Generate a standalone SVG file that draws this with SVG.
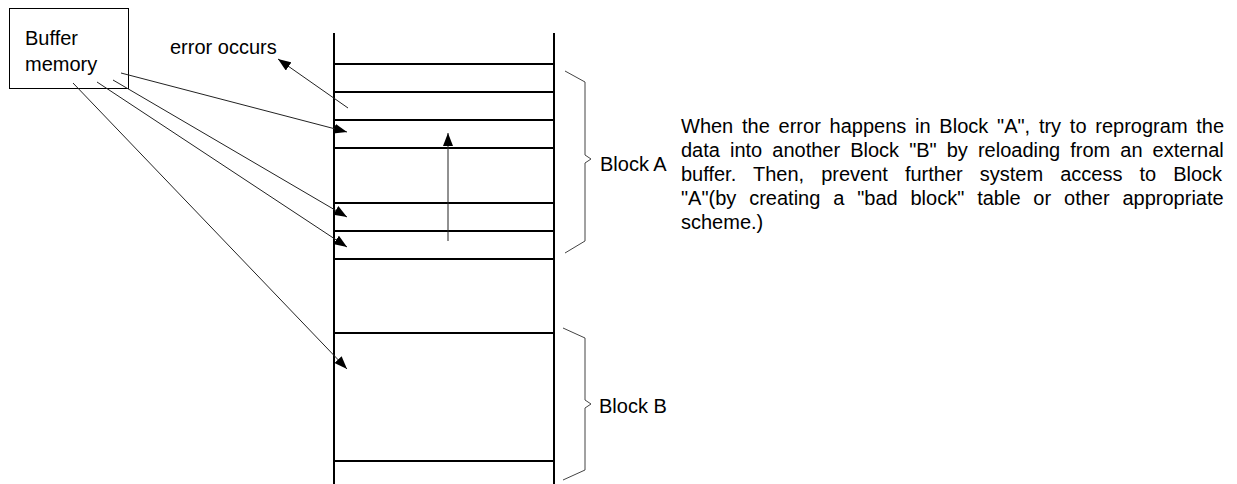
<svg xmlns="http://www.w3.org/2000/svg" width="1237" height="484" viewBox="0 0 1237 484">
<style>
text{font-family:"Liberation Sans",Arial,sans-serif;font-size:20px;fill:#000}
.thick{stroke:#000;stroke-width:2;fill:none}
.conn{stroke:#222;stroke-width:1;fill:none}
.brace{stroke:#444;stroke-width:1;fill:none}
</style>
<defs>
<marker id="ah" markerUnits="userSpaceOnUse" markerWidth="14" markerHeight="10" refX="13" refY="5" orient="auto">
<path d="M0,0 L13,5 L0,10 Z" fill="#000"/>
</marker>
</defs>
<rect width="1237" height="484" fill="#fff"/>
<g id="buffer">
<rect x="9.5" y="8.5" width="119" height="80" fill="none" stroke="#000" stroke-width="1"/>
<text x="25" y="45">Buffer</text>
<text x="25" y="71">memory</text>
</g>
<g id="error-label"><text x="170" y="54">error occurs</text></g>
<g id="memory-stack">
<line class="thick" x1="334" y1="33" x2="334" y2="484"/>
<line class="thick" x1="554" y1="33" x2="554" y2="484"/>
<line class="thick" x1="334" y1="64" x2="554" y2="64"/>
<line class="thick" x1="334" y1="92" x2="554" y2="92"/>
<line class="thick" x1="334" y1="120" x2="554" y2="120"/>
<line class="thick" x1="334" y1="148" x2="554" y2="148"/>
<line class="thick" x1="334" y1="203" x2="554" y2="203"/>
<line class="thick" x1="334" y1="231" x2="554" y2="231"/>
<line class="thick" x1="334" y1="259" x2="554" y2="259"/>
<line class="thick" x1="334" y1="333" x2="554" y2="333"/>
<line class="thick" x1="334" y1="461" x2="554" y2="461"/>
</g>
<g id="block-a">
<polyline class="brace" points="565,71 585,82 585,155 591,159 585,163 585,241 565,253"/>
<text x="600" y="171">Block A</text>
</g>
<g id="block-b">
<polyline class="brace" points="563,328 585,338 585,400 591,404 585,408 585,470 563,480"/>
<text x="599" y="413">Block B</text>
</g>
<g id="note">
<text x="681" y="132.5" word-spacing="3.2">When the error happens in Block "A", try to reprogram the</text>
<text x="681" y="156.5" word-spacing="4.5">data into another Block "B" by reloading from an external</text>
<text x="681" y="180.5" word-spacing="11.5">buffer. Then, prevent further system access to Block</text>
<text x="681" y="204.5" word-spacing="7.3">"A"(by creating a "bad block" table or other appropriate</text>
<text x="681" y="228.5">scheme.)</text>
</g>
<g id="connectors">
<line class="conn" x1="348" y1="108" x2="278" y2="59" marker-end="url(#ah)"/>
<line class="conn" x1="121" y1="73" x2="347" y2="132" marker-end="url(#ah)"/>
<line class="conn" x1="113" y1="80" x2="347" y2="217" marker-end="url(#ah)"/>
<line class="conn" x1="97" y1="82" x2="347" y2="247" marker-end="url(#ah)"/>
<line class="conn" x1="73" y1="83" x2="347" y2="369" marker-end="url(#ah)"/>
<line class="conn" x1="448" y1="241" x2="448" y2="133" marker-end="url(#ah)"/>
</g>
</svg>
